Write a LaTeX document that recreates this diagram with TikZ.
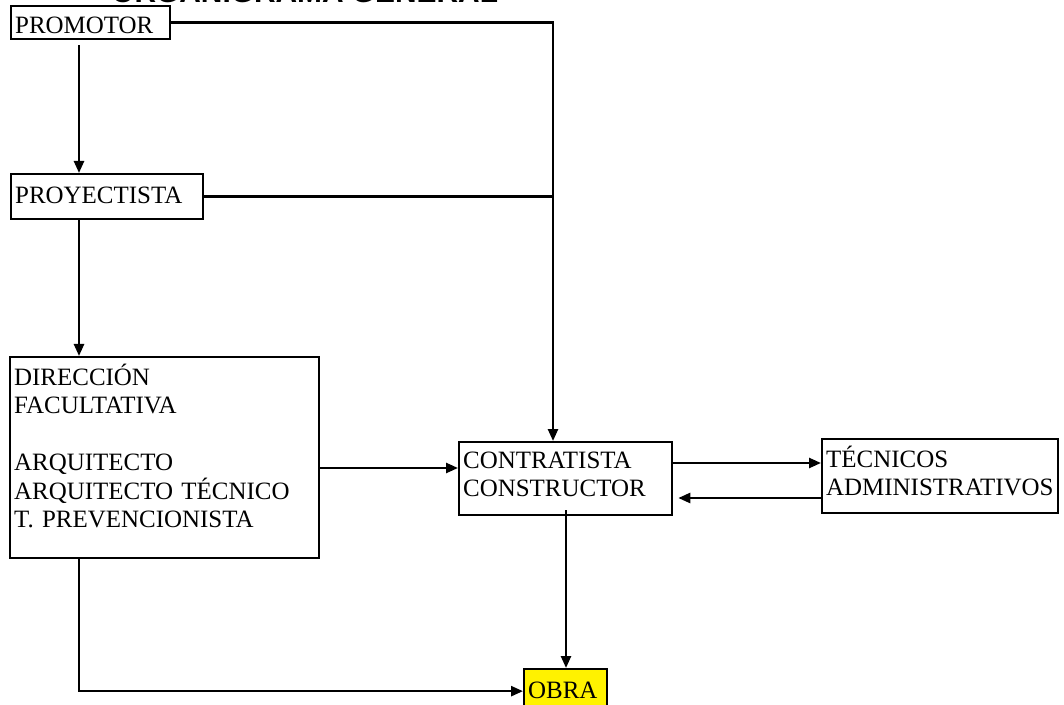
\documentclass[tikz,border=0pt]{standalone}
\usepackage{fontspec}
\setmainfont{Liberation Serif}
\newfontfamily\titlefont{Liberation Sans}
\usetikzlibrary{arrows.meta}

\begin{document}
\begin{tikzpicture}[
  box/.style={draw, line width=1.3pt, anchor=north west, align=left, inner xsep=0.08cm, inner ysep=0pt, font=\fontsize{14.2}{16.2}\selectfont},
  arr/.style={line width=1.4pt, -{Triangle[length=0.24cm,width=0.2cm]}},
  link/.style={line width=1.4pt}]
\useasboundingbox (0,0) rectangle (21.28,14.08);
\node[anchor=base west, inner sep=0pt, font={\titlefont\fontsize{17}{20}\selectfont\bfseries}] (title) at (2.22,14.03) {ORGANIGRAMA GENERAL};
\node[box, text width=3.02cm, text height=0.54cm, text depth=0.12cm] (promotor) at (0.20,13.98) {PROMOTOR};
\node[box, text width=3.68cm, text height=0.58cm, text depth=0.32cm] (proyectista) at (0.20,10.62) {PROYECTISTA};
\node[box, text width=6.02cm, text height=0.56cm, text depth=3.46cm] (dir) at (0.18,6.96) {DIRECCIÓN\\FACULTATIVA\\[16.2pt]ARQUITECTO\\ARQUITECTO TÉCNICO\\T. PREVENCIONISTA};
\node[box, text width=4.10cm, text height=0.52cm, text depth=0.94cm] (contr) at (9.16,5.26) {CONTRATISTA\\CONSTRUCTOR};
\node[box, text width=4.56cm, text height=0.56cm, text depth=0.92cm] (tec) at (16.42,5.32) {TÉCNICOS\\ADMINISTRATIVOS};
\node[box, fill=yellow, text width=1.50cm, text height=0.58cm, text depth=0.30cm] (obra) at (10.46,0.72) {OBRA};
\coordinate (colA) at (1.58,0);
\coordinate (colB) at (11.06,0);
\coordinate (colC) at (11.32,0);
\coordinate (rowD) at (0,4.72);
\coordinate (rowT) at (0,4.82);
\coordinate (rowB) at (0,4.12);
\draw[arr, shorten <=0.1cm] (promotor.south -| colA) -- (proyectista.north -| colA);
\draw[arr] (proyectista.south -| colA) -- (dir.north -| colA);
\draw[arr] (promotor.east) -| (contr.north -| colB);
\draw[link] (proyectista.east) -- (proyectista.east -| colB);
\draw[arr] (dir.east |- rowD) -- (contr.west |- rowD);
\draw[arr] (contr.east |- rowT) -- (tec.west |- rowT);
\draw[arr, shorten >=0.1cm] (tec.west |- rowB) -- (contr.east |- rowB);
\draw[arr, shorten <=-0.12cm] (contr.south -| colC) -- (obra.north -| colC);
\draw[arr] (dir.south -| colA) |- (obra.west);
\end{tikzpicture}
\end{document}
